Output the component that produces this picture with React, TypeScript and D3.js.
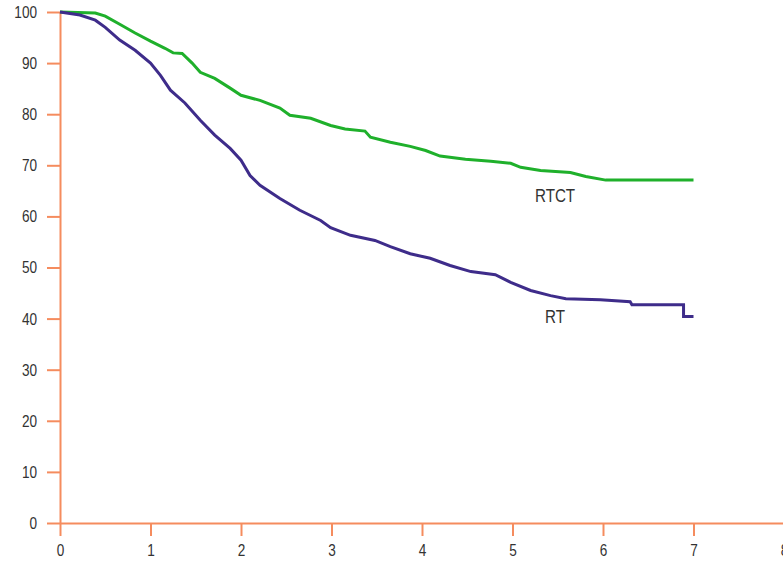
import { useRef, useEffect } from "react";
import * as d3 from "d3";

// RTCT arm (years, % surviving)
const rtctTimes = [0, 0.39, 0.5, 0.66, 0.83, 1.0, 1.16, 1.25, 1.35, 1.46, 1.55, 1.71, 1.88, 2.0, 2.21, 2.43, 2.54, 2.77, 2.99, 3.15, 3.37, 3.43, 3.65, 3.87, 4.04, 4.2, 4.48, 4.76, 4.98, 5.09, 5.31, 5.64, 5.81, 6.03, 7.0];
const rtctSurv = [100, 99.8, 99.2, 97.6, 95.9, 94.3, 92.9, 92.0, 91.9, 90.0, 88.2, 87.0, 85.1, 83.7, 82.7, 81.2, 79.8, 79.2, 77.8, 77.1, 76.7, 75.5, 74.5, 73.7, 72.9, 71.8, 71.2, 70.8, 70.4, 69.6, 69.0, 68.6, 67.8, 67.1, 67.1];

// RT arm
const rtTimes = [0, 0.22, 0.39, 0.5, 0.66, 0.83, 1.0, 1.11, 1.22, 1.38, 1.55, 1.71, 1.88, 2.0, 2.1, 2.21, 2.43, 2.65, 2.88, 2.99, 3.21, 3.48, 3.65, 3.87, 4.09, 4.31, 4.54, 4.81, 4.98, 5.2, 5.42, 5.59, 5.97, 6.3, 6.32, 6.89, 6.89, 7.0];
const rtSurv = [100, 99.4, 98.4, 97.0, 94.5, 92.5, 90.0, 87.6, 84.7, 82.2, 78.8, 75.9, 73.3, 71.0, 68.0, 66.1, 63.5, 61.2, 59.2, 57.8, 56.3, 55.3, 54.1, 52.7, 51.8, 50.4, 49.2, 48.6, 47.1, 45.5, 44.5, 43.9, 43.7, 43.3, 42.7, 42.7, 40.4, 40.4];

const xTicks = [0, 1, 2, 3, 4, 5, 6, 7, 8];
const yTicks = [0, 10, 20, 30, 40, 50, 60, 70, 80, 90, 100];

const seriesLabels = [
  { name: "RTCT", t: 5.47, v: 62.8 },
  { name: "RT", t: 5.47, v: 39.1 },
];

const AXIS = "#f58c5e";
const GREEN = "#1fb02b";
const PURPLE = "#3e2c8a";
const FONT = "'Liberation Sans', Arial, sans-serif";
const SQUEEZE = 0.8; // condensed look of the original lettering

export default function App() {
  const svgRef = useRef<SVGSVGElement>(null);

  useEffect(() => {
    if (!svgRef.current) return;
    const width = 783;
    const height = 563;

    const svg = d3.select(svgRef.current).attr("width", width).attr("height", height);
    svg.selectAll("*").remove();

    const x = d3.scaleLinear().domain([0, 8]).range([60, 784]);
    const y = d3.scaleLinear().domain([0, 100]).range([523, 12]);

    // Axes
    const yAxis = svg
      .append("g")
      .attr("transform", `translate(${x(0)},0)`)
      .call(d3.axisLeft(y).tickValues(yTicks).tickSize(13).tickSizeOuter(0).tickPadding(10));
    const xAxis = svg
      .append("g")
      .attr("transform", `translate(0,${y(0)})`)
      .call(d3.axisBottom(x).tickValues(xTicks).tickSize(13).tickSizeOuter(0).tickPadding(8));

    for (const ax of [yAxis, xAxis]) {
      ax.select(".domain").attr("stroke", AXIS).attr("stroke-width", 2);
      ax.selectAll(".tick line").attr("stroke", AXIS).attr("stroke-width", 2);
      ax.selectAll<SVGTextElement, unknown>("text")
        .attr("fill", "#333")
        .style("font-size", "17px")
        .style("font-family", FONT)
        .attr("x", function () {
          return (+(this.getAttribute("x") || 0)) / SQUEEZE;
        })
        .attr("transform", `scale(${SQUEEZE},1)`);
    }

    // Curves
    const line = d3
      .line<[number, number]>()
      .x((d) => x(d[0]))
      .y((d) => y(d[1]))
      .curve(d3.curveLinear);

    const curves = [
      { times: rtctTimes, surv: rtctSurv, color: GREEN },
      { times: rtTimes, surv: rtSurv, color: PURPLE },
    ];
    for (const c of curves) {
      const pts = c.times.map((t, i) => [t, c.surv[i]] as [number, number]);
      svg
        .append("path")
        .datum(pts)
        .attr("fill", "none")
        .attr("stroke", c.color)
        .attr("stroke-width", 3)
        .attr("stroke-linejoin", "miter")
        .attr("d", line);
    }

    // Labels
    svg
      .selectAll("text.series")
      .data(seriesLabels)
      .join("text")
      .attr("class", "series")
      .attr("transform", (d) => `translate(${x(d.t)},${y(d.v)}) scale(${SQUEEZE},1)`)
      .attr("text-anchor", "middle")
      .attr("fill", "#333")
      .style("font-size", "19px")
      .style("font-family", FONT)
      .text((d) => d.name);
  }, []);

  return (
    <svg
      ref={svgRef}
      style={{ position: "absolute", left: 0, top: 0, display: "block", background: "#fff" }}
    />
  );
}
